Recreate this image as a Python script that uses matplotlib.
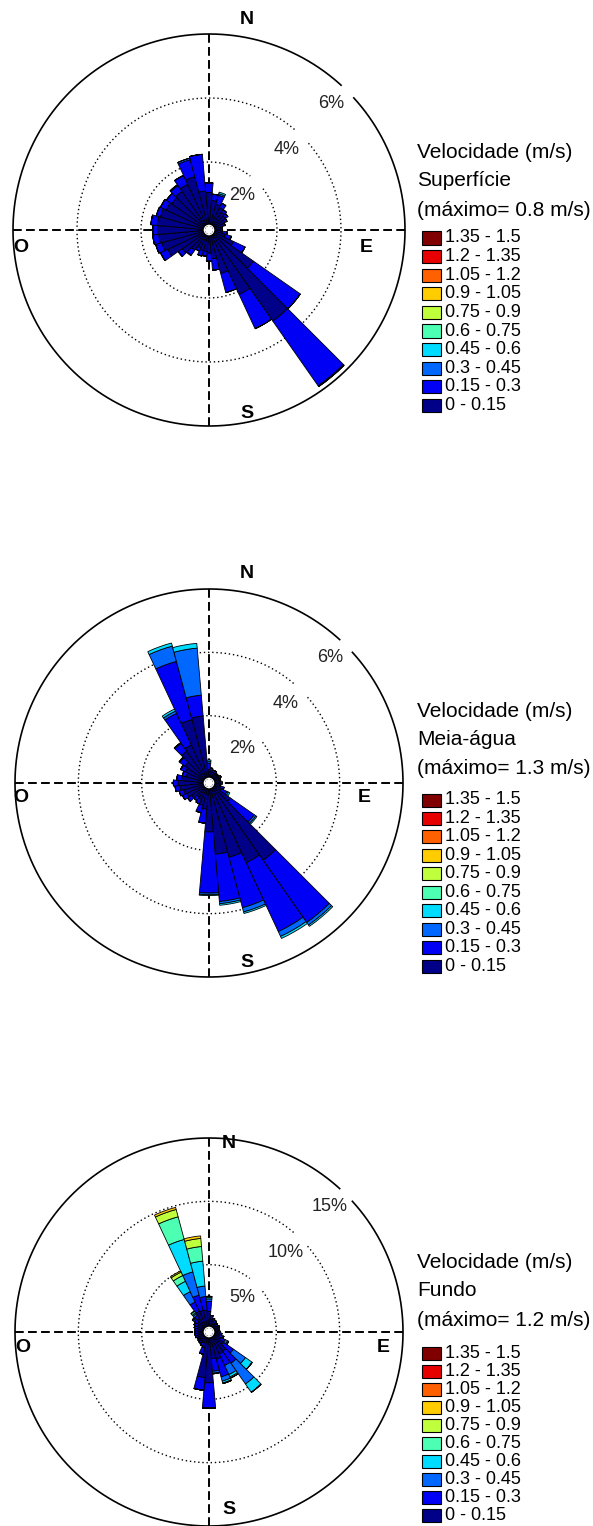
import numpy as np
import matplotlib.pyplot as plt
from matplotlib.patches import Circle, Rectangle

plt.rcParams['font.family'] = ['Liberation Sans', 'DejaVu Sans']

# direction sectors (degrees from north, clockwise), 10 degree bins
directions = np.arange(0, 360, 10)

speed_classes = ['0 - 0.15', '0.15 - 0.3', '0.3 - 0.45', '0.45 - 0.6', '0.6 - 0.75',
                 '0.75 - 0.9', '0.9 - 1.05', '1.05 - 1.2', '1.2 - 1.35', '1.35 - 1.5']
class_colors = ['#000088', '#0000f5', '#0068ff', '#00dcff', '#4dffb3',
                '#c0ff3c', '#ffcc00', '#ff6000', '#e60000', '#800000']

# frequency (%) per sector for each speed class - Superficie
sup_c1 = [1.05, 0.8, 0.7, 0.65, 0.55, 0.5, 0.42, 0.35, 0.25, 0.22, 0.3, 0.4,
          0.72, 1.57, 3.35, 2.1, 1.28, 0.78, 0.6, 0.55, 0.55, 0.5, 0.65, 0.9,
          1.3, 1.4, 1.45, 1.48, 1.5, 1.45, 1.35, 1.3, 1.35, 1.45, 1.6, 1.1]
sup_c2 = [0.3, 0.2, 0.3, 0.15, 0.1, 0.1, 0.08, 0.05, 0.05, 0.08, 0.15, 0.2,
          0.4, 1.79, 2.47, 1.18, 0.62, 0.36, 0.25, 0.15, 0.17, 0.1, 0.2, 0.15,
          0.25, 0.2, 0.19, 0.15, 0.2, 0.13, 0.2, 0.2, 0.22, 0.3, 0.55, 1.15]
sup_c3 = [0, 0, 0.05, 0, 0, 0, 0, 0, 0, 0, 0, 0,
          0, 0, 0.03, 0, 0, 0, 0, 0, 0, 0, 0, 0,
          0, 0, 0, 0, 0, 0, 0, 0, 0.03, 0.01, 0.05, 0]
sup_c4 = [0, 0, 0.05, 0, 0, 0, 0, 0, 0, 0, 0, 0,
          0, 0, 0, 0, 0, 0, 0, 0, 0, 0, 0, 0,
          0, 0, 0, 0, 0, 0, 0, 0, 0, 0, 0, 0]

# Meia-agua
mei_c1 = [0.3, 0.25, 0.22, 0.22, 0.2, 0.2, 0.22, 0.2, 0.2, 0.22, 0.2, 0.25,
          0.3, 0.7, 2.85, 2.65, 2.3, 2.13, 1.42, 0.7, 0.6, 0.45, 0.42, 0.55,
          0.65, 0.7, 0.8, 0.85, 0.75, 0.62, 0.7, 0.8, 1.1, 1.2, 1.95, 2.0]
mei_c2 = [0.2, 0.1, 0.08, 0.08, 0.05, 0.05, 0.08, 0.05, 0.05, 0.08, 0.05, 0.1,
          0.2, 0.92, 2.4, 2.4, 1.65, 1.5, 1.93, 0.45, 0.25, 0.15, 0.13, 0.15,
          0.15, 0.15, 0.15, 0.15, 0.15, 0.13, 0.15, 0.2, 0.3, 1.1, 1.9, 0.66]
mei_c3 = [0.05, 0, 0, 0, 0, 0, 0, 0, 0, 0, 0, 0.02,
          0.05, 0.06, 0.1, 0.17, 0.14, 0.07, 0.05, 0, 0, 0, 0, 0,
          0, 0, 0, 0, 0, 0, 0.02, 0.03, 0.03, 0.08, 0.5, 1.49]
mei_c4 = [0.05, 0, 0, 0, 0, 0, 0, 0, 0, 0, 0, 0,
          0.05, 0.04, 0.05, 0.07, 0.05, 0.05, 0.03, 0, 0, 0, 0, 0,
          0, 0, 0, 0, 0, 0, 0, 0, 0, 0.07, 0.1, 0.15]

# Fundo
fun_c1 = [1.3, 0.7, 0.6, 0.5, 0.45, 0.4, 0.45, 0.4, 0.38, 0.45, 0.5, 0.5,
          0.7, 1.1, 1.55, 1.6, 1.9, 1.8, 3.7, 3.3, 1.0, 0.65, 0.6, 0.55,
          0.55, 0.6, 0.6, 0.6, 0.6, 0.65, 0.7, 0.8, 1.0, 1.5, 1.45, 1.43]
fun_c2 = [0.8, 0.3, 0.2, 0.2, 0.15, 0.15, 0.15, 0.15, 0.12, 0.15, 0.2, 0.3,
          0.4, 0.95, 1.15, 1.0, 1.45, 1.0, 2.0, 1.0, 0.5, 0.25, 0.2, 0.2,
          0.15, 0.2, 0.2, 0.2, 0.2, 0.25, 0.3, 0.3, 0.3, 0.8, 1.25, 1.07]
fun_c3 = [0.2, 0, 0, 0, 0, 0, 0, 0, 0, 0, 0, 0.1,
          0.2, 1.15, 2.0, 0.8, 0.35, 0.15, 0, 0, 0, 0, 0, 0,
          0, 0, 0, 0, 0, 0, 0, 0.1, 0.15, 0.9, 1.9, 0.83]
fun_c4 = [0.12, 0, 0, 0, 0, 0, 0, 0, 0, 0, 0, 0,
          0.1, 0.65, 0.8, 0.2, 0.15, 0.05, 0, 0, 0, 0, 0, 0,
          0, 0, 0, 0, 0, 0, 0, 0.1, 0.1, 0.9, 2.65, 1.97]
fun_c5 = [0.08, 0, 0, 0, 0, 0, 0, 0, 0, 0, 0, 0,
          0, 0, 0, 0.1, 0.05, 0, 0, 0, 0, 0, 0, 0,
          0, 0, 0, 0, 0, 0, 0, 0, 0.15, 0.5, 1.85, 1.16]
fun_c6 = [0] * 33 + [0.3, 0.6, 0.64]
fun_c7 = [0] * 33 + [0.1, 0.17, 0.2]

titles = ['Superfície', 'Meia-água', 'Fundo']
max_speed = ['0.8', '1.3', '1.2']
ring_values = [[2, 4, 6], [2, 4, 6], [5, 10, 15]]
rose_data = [[sup_c1, sup_c2, sup_c3, sup_c4],
             [mei_c1, mei_c2, mei_c3, mei_c4],
             [fun_c1, fun_c2, fun_c3, fun_c4, fun_c5, fun_c6, fun_c7]]

# layout in pixels
W, H = 593, 1526
centers = [(209, 230), (209, 783), (209, 1332)]
radii = [196, 194, 194]
card_pos = [{'N': (247, 20), 'S': (247, 413), 'E': (366, 247), 'O': (21, 247)},
            {'N': (247, 574), 'S': (247, 962), 'E': (364, 798), 'O': (21, 798)},
            {'N': (229, 1143), 'S': (229, 1510), 'E': (383, 1347), 'O': (23, 1347)}]
legend_title_y = [152, 711, 1262]
legend_first_y = [238, 800, 1353]
legend_step = [18.6, 18.45, 18.0]

fig = plt.figure(figsize=(W / 100, H / 100), dpi=100)


def fx(x):
    return x / W


def fy(y):
    return 1 - y / H


for k in range(3):
    cx, cy = centers[k]
    R = radii[k]
    rings = ring_values[k]
    rmax = rings[-1]
    hole = 4 / R
    r0 = -hole * rmax / (1 - hole)

    ax = fig.add_axes([fx(cx - R), fy(cy + R), 2 * R / W, 2 * R / H], projection='polar')
    ax.set_theta_zero_location('N')
    ax.set_theta_direction(-1)
    ax.set_ylim(0, rmax)
    ax.set_rorigin(r0)
    ax.set_axis_off()

    # cardinal dashed lines
    for a in [0, 90]:
        t = np.deg2rad(a)
        ax.plot([t, t], [rmax, 0], color='black', lw=1.4, ls=(0, (4.5, 2.2)), zorder=1,
                clip_on=False)
        ax.plot([t + np.pi, t + np.pi], [rmax, 0], color='black', lw=1.4, ls=(0, (4.5, 2.2)),
                zorder=1, clip_on=False)

    # rings with a break where the label sits
    for i, rv in enumerate(rings):
        ring_px = (rv - r0) / (rmax - r0) * R
        half_gap = 9 / ring_px
        th = np.linspace(np.pi / 4 + half_gap, np.pi / 4 + 2 * np.pi - half_gap, 600)
        if rv == rmax:
            ax.plot(th, np.full_like(th, rv), color='black', lw=1.2, zorder=1, clip_on=False)
        else:
            ax.plot(th, np.full_like(th, rv), color='black', lw=1.0, ls=(0, (1, 2)), zorder=1)
        r_lab = r0 + (ring_px - 20) / R * (rmax - r0)
        ax.text(np.deg2rad(44), r_lab, f'{rv}%', ha='center', va='center',
                fontsize=13, color='#222222', zorder=4)

    # stacked bars
    theta = np.deg2rad(directions)
    bottom = np.zeros(len(directions))
    for ci, vals in enumerate(rose_data[k]):
        vals = np.array(vals, dtype=float)
        ax.bar(theta, vals, width=np.deg2rad(10), bottom=bottom, color=class_colors[ci],
               edgecolor='black', linewidth=0.6, zorder=2)
        bottom += vals

    # white hub
    ax.add_patch(Circle((0.5, 0.5), 6 / (2 * R), transform=ax.transAxes, facecolor='white',
                        edgecolor='black', lw=1.0, zorder=5))

    for lab, (px, py) in card_pos[k].items():
        fig.text(fx(px), fy(py), lab, ha='center', va='center', fontsize=14,
                 fontweight='bold')

    # legend
    ty = legend_title_y[k]
    fig.text(fx(417), fy(ty), 'Velocidade (m/s)', ha='left', va='center', fontsize=15)
    fig.text(fx(417), fy(ty + 29), titles[k], ha='left', va='center', fontsize=15)
    fig.text(fx(417), fy(ty + 58), f'(máximo= {max_speed[k]} m/s)', ha='left', va='center',
             fontsize=15)
    for i in range(10):
        ci = 9 - i
        yy = legend_first_y[k] + i * legend_step[k]
        fig.patches.append(Rectangle((fx(422), fy(yy + 6.5)), 19 / W, 13 / H,
                                     transform=fig.transFigure, facecolor=class_colors[ci],
                                     edgecolor='black', lw=0.8))
        fig.text(fx(445), fy(yy), speed_classes[ci], ha='left', va='center', fontsize=13)

fig.savefig('out.png', dpi=100)
